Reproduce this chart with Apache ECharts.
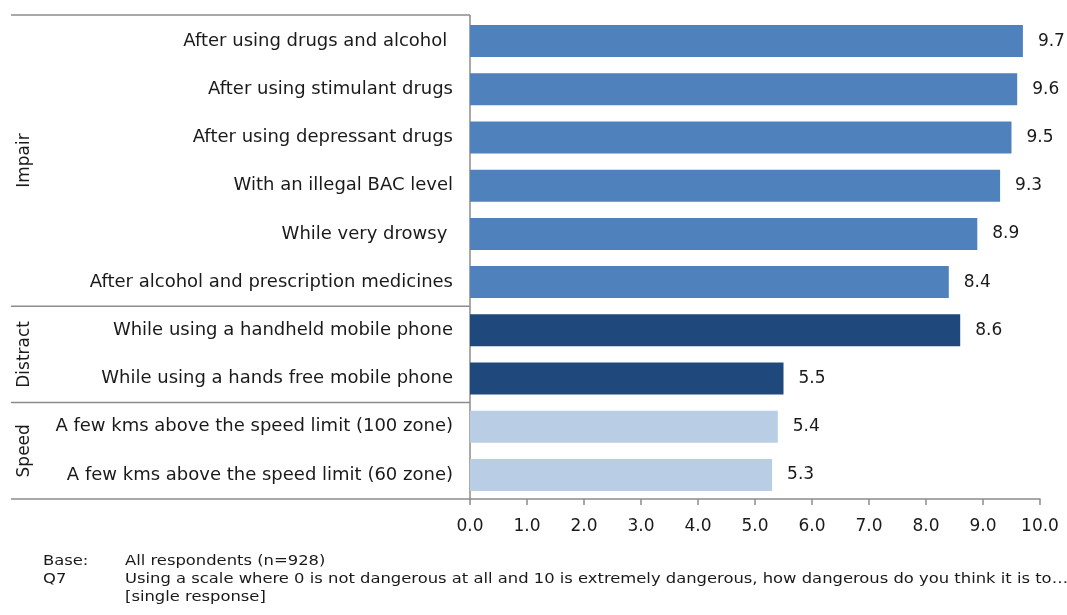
<!DOCTYPE html>
<html><head><meta charset="utf-8">
<script src="https://cdn.jsdelivr.net/npm/echarts@6/dist/echarts.min.js"></script>
<style>html,body{margin:0;padding:0;background:#fff}#c{width:1067px;height:615px}</style>
</head><body><div id="c"></div>
<script>
const categories = [
  'After using drugs and alcohol ',
  'After using stimulant drugs',
  'After using depressant drugs',
  'With an illegal BAC level',
  'While very drowsy ',
  'After alcohol and prescription medicines',
  'While using a handheld mobile phone',
  'While using a hands free mobile phone',
  'A few kms above the speed limit (100 zone)',
  'A few kms above the speed limit (60 zone)'
];
const values = [9.7, 9.6, 9.5, 9.3, 8.9, 8.4, 8.6, 5.5, 5.4, 5.3];
const groupOf = ['Impair','Impair','Impair','Impair','Impair','Impair','Distract','Distract','Speed','Speed'];
const groups = ['Impair', 'Distract', 'Speed'];
const groupColors = ['#4F81BD', '#1F497D', '#B9CDE5'];
const xMin = 0, xMax = 10, xStep = 1;
const footLabels = ['Base:', 'Q7', ''];
const footTexts = ['All respondents (n=928)',
  'Using a scale where 0 is not dangerous at all and 10 is extremely dangerous, how dangerous do you think it is to\u2026',
  '[single response]'];

const FONT = 'DejaVu Sans';
const LINE = '#8c8c8c';
const chart = echarts.init(document.getElementById('c'), null, {renderer: 'canvas'});

const option = {
  animation: false,
  backgroundColor: '#fff',
  grid: {left: 470, right: 27, top: 17, bottom: 116, containLabel: false},
  xAxis: {
    type: 'value', min: xMin, max: xMax, interval: xStep,
    axisLine: {show: true, lineStyle: {color: LINE, width: 1.5}},
    axisTick: {show: true, length: 6, lineStyle: {color: LINE, width: 1.5}},
    splitLine: {show: false},
    axisLabel: {margin: 19, fontFamily: FONT, fontSize: 17, color: '#1a1a1a',
      formatter: v => v.toFixed(1)}
  },
  yAxis: {
    type: 'category', data: categories, inverse: true,
    axisLine: {show: true, lineStyle: {color: LINE, width: 1.5}},
    axisTick: {show: false},
    axisLabel: {margin: 17, fontFamily: FONT, fontSize: 18, color: '#1a1a1a'}
  },
  series: [{
    type: 'bar',
    barWidth: 32,
    data: values.map((v, i) => ({
      value: v,
      itemStyle: {color: groupColors[groups.indexOf(groupOf[i])]}
    })),
    label: {show: true, position: 'right', distance: 15, fontFamily: FONT, fontSize: 17,
      color: '#1a1a1a', formatter: p => p.value.toFixed(1)}
  }]
};
chart.setOption(option);

// Decorations derived from axis positions
const ys = categories.map(c => chart.convertToPixel({yAxisIndex: 0}, c));
const band = ys[1] - ys[0];
const x0 = chart.convertToPixel({xAxisIndex: 0}, xMin);
const leftX = 11;
const graphics = [];
function hline(y) {
  graphics.push({type: 'line', shape: {x1: leftX, y1: y, x2: x0, y2: y},
    style: {stroke: LINE, lineWidth: 1.5}, silent: true});
}
const gridTop = ys[0] - band / 2;
const topY = gridTop - 2;
hline(topY);
graphics.push({type: 'line', shape: {x1: x0, y1: topY, x2: x0, y2: gridTop},
  style: {stroke: LINE, lineWidth: 1.5}, silent: true});
let start = 0;
for (let i = 1; i <= categories.length; i++) {
  if (i === categories.length || groupOf[i] !== groupOf[start]) {
    const yTop = start === 0 ? topY : ys[start] - band / 2;
    const yBot = ys[i - 1] + band / 2;
    hline(yBot);
    graphics.push({type: 'text', x: 25, y: (yTop + yBot) / 2, rotation: Math.PI / 2,
      style: {text: groupOf[start], font: '17px "' + FONT + '"', fill: '#1a1a1a',
        align: 'center', verticalAlign: 'middle'}, silent: true});
    start = i;
  }
}
const footY0 = 561, footDy = 18;
const footFont = '14px "DejaVu Sans Condensed"';
footTexts.forEach((t, i) => {
  graphics.push({type: 'text', x: 43, y: footY0 + i * footDy, scaleX: 1.3,
    style: {text: footLabels[i], font: footFont, fill: '#1a1a1a', verticalAlign: 'middle'}});
  graphics.push({type: 'text', x: 125, y: footY0 + i * footDy, scaleX: 1.3,
    style: {text: t, font: footFont, fill: '#1a1a1a', verticalAlign: 'middle'}});
});
chart.setOption({graphic: graphics});
</script>
</body></html>
